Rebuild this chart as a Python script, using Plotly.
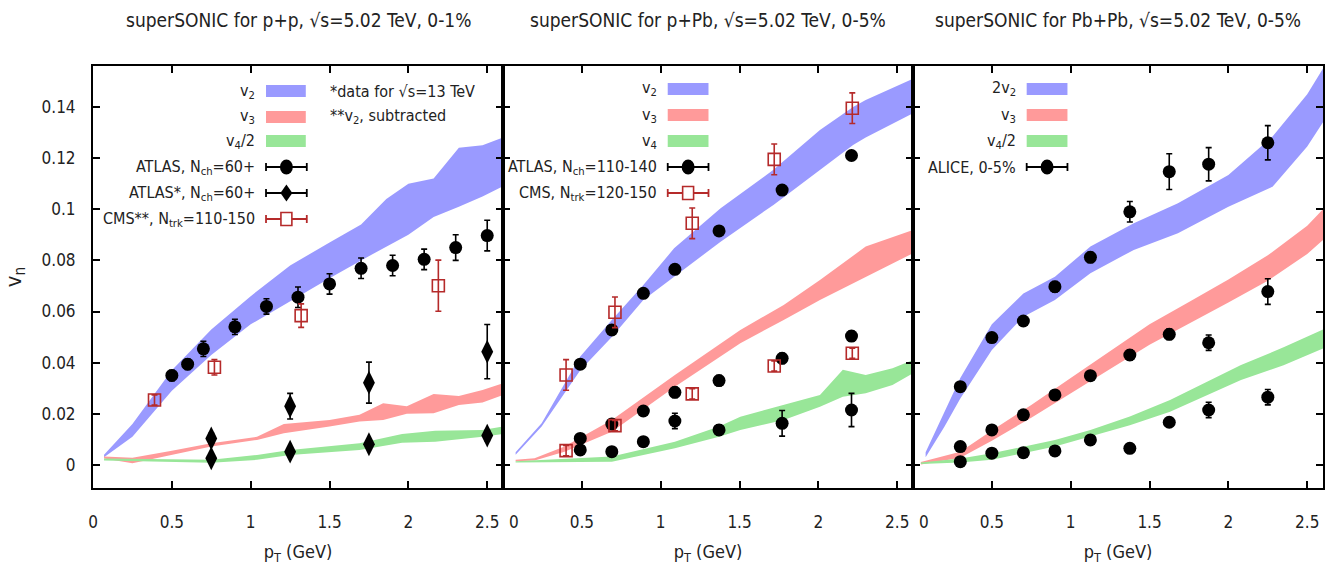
import plotly.graph_objects as go

# ---------------- data ----------------
# Panel 1: p+p
pp_v2_x = [0.07, 0.25, 0.5, 0.75, 1.0, 1.25, 1.5, 1.7, 1.86, 2.0, 2.16, 2.32, 2.47, 2.6]
pp_v2_hi = [0.004, 0.016, 0.037, 0.053, 0.066, 0.078, 0.087, 0.094, 0.104, 0.110, 0.112, 0.124, 0.125, 0.128]
pp_v2_lo = [0.003, 0.011, 0.029, 0.043, 0.055, 0.064, 0.073, 0.080, 0.0854, 0.090, 0.097, 0.101, 0.105, 0.109]
pp_v3_x = [0.07, 0.25, 0.5, 0.75, 1.04, 1.21, 1.5, 1.69, 1.84, 1.99, 2.16, 2.32, 2.47, 2.6]
pp_v3_hi = [0.0033, 0.0028, 0.0056, 0.0085, 0.011, 0.016, 0.0176, 0.0196, 0.0241, 0.023, 0.0278, 0.027, 0.0293, 0.032]
pp_v3_lo = [0.0025, 0.0007, 0.004, 0.0072, 0.0098, 0.0124, 0.015, 0.017, 0.0176, 0.020, 0.0202, 0.0235, 0.0244, 0.0274]
pp_v4_x = [0.07, 0.75, 1.04, 1.25, 1.69, 1.96, 2.17, 2.47, 2.6]
pp_v4_hi = [0.0025, 0.002, 0.0039, 0.0059, 0.0085, 0.0121, 0.0134, 0.0137, 0.015]
pp_v4_lo = [0.0018, 0.0009, 0.002, 0.0039, 0.0059, 0.0087, 0.0091, 0.011, 0.0121]

pp_atlas_x = [0.5, 0.6, 0.7, 0.9, 1.1, 1.3, 1.5, 1.7, 1.9, 2.1, 2.3, 2.5]
pp_atlas_v2 = [0.035, 0.0394, 0.0454, 0.054, 0.062, 0.0656, 0.0708, 0.0769, 0.078, 0.0804, 0.085, 0.0897]
pp_atlas_v2_err = [0.002, 0.002, 0.003, 0.003, 0.003, 0.004, 0.004, 0.004, 0.004, 0.004, 0.005, 0.006]
pp_atlas13_x = [0.75, 1.25, 1.75, 2.5]
pp_atlas13_v3 = [0.0104, 0.023, 0.0322, 0.0443]
pp_atlas13_v3_err = [0.002, 0.005, 0.008, 0.0106]
pp_atlas13_v4 = [0.0026, 0.0052, 0.0081, 0.0115]
pp_atlas13_v4_err = [0.001, 0.001, 0.001, 0.002]
pp_cms_x = [0.39, 0.77, 1.32, 2.19]
pp_cms_v2 = [0.0254, 0.0382, 0.0584, 0.0701]
pp_cms_v2_err = [0.002, 0.003, 0.0046, 0.010]

# Panel 2: p+Pb
ppb_v2_x = [0.08, 0.245, 0.49, 0.69, 0.89, 1.085, 1.38, 1.715, 2.01, 2.22, 2.30, 2.6]
ppb_v2_hi = [0.005, 0.0163, 0.0424, 0.0567, 0.0704, 0.0847, 0.1004, 0.1154, 0.131, 0.140, 0.1427, 0.151]
ppb_v2_lo = [0.004, 0.015, 0.037, 0.050, 0.0645, 0.0736, 0.0873, 0.1017, 0.1154, 0.1251, 0.128, 0.1375]
ppb_v3_x = [0.08, 0.2, 0.39, 0.69, 1.09, 1.505, 1.78, 2.01, 2.30, 2.6]
ppb_v3_hi = [0.002, 0.0026, 0.0072, 0.0176, 0.0352, 0.0528, 0.0626, 0.0723, 0.0854, 0.0919]
ppb_v3_lo = [0.0015, 0.0018, 0.0052, 0.013, 0.0306, 0.0476, 0.0567, 0.0645, 0.0736, 0.0828]
ppb_v4_x = [0.08, 0.69, 1.09, 1.37, 1.505, 1.78, 2.01, 2.155, 2.30, 2.47, 2.6]
ppb_v4_hi = [0.0015, 0.0033, 0.0091, 0.015, 0.0189, 0.0235, 0.0274, 0.0372, 0.0352, 0.0378, 0.041]
ppb_v4_lo = [0.001, 0.0013, 0.0065, 0.011, 0.0137, 0.0176, 0.0228, 0.0267, 0.028, 0.0313, 0.0359]

ppb_atlas_x = [0.49, 0.69, 0.89, 1.09, 1.37, 1.77, 2.21]
ppb_atlas_v2 = [0.0394, 0.0528, 0.0671, 0.0765, 0.0915, 0.1075, 0.121]
ppb_atlas_v2_err = [0.001, 0.001, 0.001, 0.001, 0.001, 0.001, 0.001]
ppb_atlas_v3 = [0.0104, 0.016, 0.0211, 0.0284, 0.033, 0.0417, 0.0504]
ppb_atlas_v3_err = [0.001, 0.001, 0.001, 0.002, 0.002, 0.002, 0.002]
ppb_atlas_v4 = [0.0059, 0.0052, 0.0091, 0.0172, 0.0137, 0.0163, 0.0215]
ppb_atlas_v4_err = [0.001, 0.001, 0.001, 0.003, 0.002, 0.005, 0.0065]
ppb_cms_x = [0.40, 0.71, 1.2, 1.72, 2.215]
ppb_cms_v2 = [0.0352, 0.0597, 0.0945, 0.1195, 0.1395]
ppb_cms_v2_err = [0.006, 0.006, 0.006, 0.006, 0.006]
ppb_cms_v3 = [0.0056, 0.0154, 0.0278, 0.0387, 0.0437]
ppb_cms_v3_err = [0.002, 0.002, 0.002, 0.002, 0.002]

# Panel 3: Pb+Pb
pbpb_v2_x = [0.08, 0.2, 0.3, 0.5, 0.7, 0.9, 1.125, 1.4, 1.68, 2.0, 2.28, 2.5, 2.6]
pbpb_v2_hi = [0.005, 0.021, 0.034, 0.055, 0.067, 0.0736, 0.0854, 0.0945, 0.1023, 0.1134, 0.1284, 0.145, 0.155]
pbpb_v2_lo = [0.003, 0.015, 0.026, 0.045, 0.058, 0.0645, 0.075, 0.0841, 0.0906, 0.101, 0.1088, 0.1245, 0.134]
pbpb_v3_x = [0.05, 0.3, 0.5, 0.75, 1.0, 1.25, 1.5, 1.75, 2.0, 2.25, 2.5, 2.6]
pbpb_v3_hi = [0.0012, 0.0052, 0.0135, 0.0235, 0.034, 0.0445, 0.055, 0.0637, 0.0725, 0.082, 0.0935, 0.100]
pbpb_v3_lo = [0.0002, 0.0028, 0.0095, 0.0185, 0.028, 0.0375, 0.047, 0.0553, 0.0635, 0.072, 0.0825, 0.088]
pbpb_v4_x = [0.05, 0.3, 0.5, 0.9, 1.125, 1.375, 1.63, 1.85, 2.08, 2.35, 2.6]
pbpb_v4_hi = [0.001, 0.0025, 0.0046, 0.0098, 0.0137, 0.019, 0.0254, 0.032, 0.0391, 0.046, 0.053]
pbpb_v4_lo = [0.0004, 0.001, 0.002, 0.0072, 0.0111, 0.0155, 0.0208, 0.027, 0.0332, 0.039, 0.0455]

pbpb_alice_x = [0.3, 0.5, 0.7, 0.9, 1.125, 1.375, 1.625, 1.875, 2.25]
pbpb_alice_v2 = [0.0306, 0.0498, 0.0563, 0.0697, 0.0812, 0.099, 0.1147, 0.1176, 0.126]
pbpb_alice_v2_err = [0.001, 0.001, 0.001, 0.002, 0.002, 0.004, 0.007, 0.0065, 0.0067]
pbpb_alice_v3 = [0.0072, 0.0137, 0.0196, 0.0274, 0.0349, 0.043, 0.0511, 0.0478, 0.0678]
pbpb_alice_v3_err = [0.001, 0.001, 0.001, 0.001, 0.001, 0.002, 0.002, 0.003, 0.005]
pbpb_alice_v4 = [0.0013, 0.0046, 0.0048, 0.0055, 0.0098, 0.0065, 0.0167, 0.0215, 0.0265]
pbpb_alice_v4_err = [0.001, 0.001, 0.001, 0.001, 0.001, 0.001, 0.001, 0.003, 0.003]

titles = ["superSONIC for p+p, \u221as=5.02 TeV, 0-1%",
          "superSONIC for p+Pb, \u221as=5.02 TeV, 0-5%",
          "superSONIC for Pb+Pb, \u221as=5.02 TeV, 0-5%"]
x_ticks = [0, 0.5, 1, 1.5, 2, 2.5]
x_tick_text = ["0", "0.5", "1", "1.5", "2", "2.5"]
y_ticks = [0, 0.02, 0.04, 0.06, 0.08, 0.1, 0.12, 0.14]
y_tick_text = ["0", "0.02", "0.04", "0.06", "0.08", "0.1", "0.12", "0.14"]

# ---------------- style ----------------
BLUE = "#9a9aff"
RED = "#ff9a9a"
GREEN = "#98e698"
CMSRED = "#b52a2a"
FONT = "DejaVu Sans Condensed, Liberation Sans Narrow, DejaVu Sans, sans-serif"
W, H = 1337, 574
ML, MR, MT, MB = 88, 12, 66, 86

fig = go.Figure()


def band(x, lo, hi, color, ax):
    fig.add_trace(go.Scatter(
        x=list(x) + list(x)[::-1], y=list(hi) + list(lo)[::-1],
        fill="toself", fillcolor=color, line=dict(width=0, color=color),
        mode="lines", hoverinfo="skip", showlegend=False,
        xaxis="x" + ax, yaxis="y" + ax))


def points(x, y, err, ax, symbol="circle", color="black", size=13, lw=0):
    fig.add_trace(go.Scatter(
        x=x, y=y, mode="markers",
        marker=dict(symbol=symbol, size=size, color=color,
                    line=dict(width=lw, color=color)),
        error_y=dict(type="data", array=err, color=color, thickness=1.6, width=3),
        showlegend=False, xaxis="x" + ax, yaxis="y" + ax))


# panel 1
band(pp_v2_x, pp_v2_lo, pp_v2_hi, BLUE, "")
band(pp_v3_x, pp_v3_lo, pp_v3_hi, RED, "")
band(pp_v4_x, pp_v4_lo, pp_v4_hi, GREEN, "")
points(pp_atlas_x, pp_atlas_v2, pp_atlas_v2_err, "")
points(pp_atlas13_x, pp_atlas13_v3, pp_atlas13_v3_err, "", symbol="diamond-tall", size=17)
points(pp_atlas13_x, pp_atlas13_v4, pp_atlas13_v4_err, "", symbol="diamond-tall", size=17)
points(pp_cms_x, pp_cms_v2, pp_cms_v2_err, "", symbol="square-open", color=CMSRED, size=12, lw=1.6)

# panel 2
band(ppb_v2_x, ppb_v2_lo, ppb_v2_hi, BLUE, "2")
band(ppb_v3_x, ppb_v3_lo, ppb_v3_hi, RED, "2")
band(ppb_v4_x, ppb_v4_lo, ppb_v4_hi, GREEN, "2")
points(ppb_atlas_x, ppb_atlas_v2, ppb_atlas_v2_err, "2")
points(ppb_atlas_x, ppb_atlas_v3, ppb_atlas_v3_err, "2")
points(ppb_atlas_x, ppb_atlas_v4, ppb_atlas_v4_err, "2")
points(ppb_cms_x, ppb_cms_v2, ppb_cms_v2_err, "2", symbol="square-open", color=CMSRED, size=12, lw=1.6)
points(ppb_cms_x, ppb_cms_v3, ppb_cms_v3_err, "2", symbol="square-open", color=CMSRED, size=12, lw=1.6)

# panel 3
band(pbpb_v2_x, pbpb_v2_lo, pbpb_v2_hi, BLUE, "3")
band(pbpb_v3_x, pbpb_v3_lo, pbpb_v3_hi, RED, "3")
band(pbpb_v4_x, pbpb_v4_lo, pbpb_v4_hi, GREEN, "3")
points(pbpb_alice_x, pbpb_alice_v2, pbpb_alice_v2_err, "3")
points(pbpb_alice_x, pbpb_alice_v3, pbpb_alice_v3_err, "3")
points(pbpb_alice_x, pbpb_alice_v4, pbpb_alice_v4_err, "3")

# ---------------- axes ----------------
domains = [[0, 1 / 3], [1 / 3, 2 / 3], [2 / 3, 1]]
layout = dict(
    width=W, height=H, margin=dict(l=ML, r=MR, t=MT, b=MB),
    plot_bgcolor="white", paper_bgcolor="white",
    font=dict(family=FONT, size=17, color="#222"),
    showlegend=False,
)
ann = []
for i, suf in enumerate(["", "2", "3"]):
    tt = list(x_tick_text)
    if i > 0:
        # the inner panels' "0" is drawn a bit right of the shared frame line (below)
        ann.append(dict(text=tt[0], x=x_ticks[0], y=0, xref="x" + suf, yref="paper",
                        xanchor="left", yanchor="top", xshift=4, yshift=-22,
                        showarrow=False, font=dict(size=17, color="#222")))
        tt[0] = ""
    layout["xaxis" + suf] = dict(
        domain=domains[i], range=[0, 2.6], tickvals=x_ticks, ticktext=tt,
        ticks="inside", ticklen=7, tickwidth=1.5, tickcolor="black",
        mirror="allticks", showline=True, linecolor="black", linewidth=2,
        showgrid=False, zeroline=False, anchor="y" + suf, ticklabelstandoff=18,
        tickfont=dict(size=17),
        title=dict(text="p<sub>T</sub> (GeV)", font=dict(size=18), standoff=14))
    layout["yaxis" + suf] = dict(
        range=[-0.009, 0.156], tickvals=y_ticks, ticktext=y_tick_text,
        ticks="inside", ticklen=7, tickwidth=1.5, tickcolor="black",
        mirror="allticks", showline=True, linecolor="black", linewidth=2,
        showgrid=False, zeroline=False, anchor="x" + suf,
        showticklabels=(i == 0), ticklabelstandoff=12, tickfont=dict(size=17),
        title=dict(text="v<sub>n</sub>" if i == 0 else "", font=dict(size=22), standoff=14))
fig.update_layout(**layout)


# ---------------- titles & legends (pixel placement) ----------------
def px(xp):
    return (xp - ML) / (W - ML - MR)


def py(yp):
    return (H - MB - yp) / (H - MT - MB)


shapes = []
for i, t in enumerate(titles):
    cx = (domains[i][0] + domains[i][1]) / 2
    ann.append(dict(text=t, x=cx, y=py(20), xref="paper", yref="paper",
                    showarrow=False, xanchor="center", yanchor="middle",
                    font=dict(size=19, color="#222")))


def legend_text(text, x_right, y):
    ann.append(dict(text=text, x=px(x_right), y=py(y), xref="paper", yref="paper",
                    showarrow=False, xanchor="right", yanchor="middle",
                    font=dict(size=16, color="#222")))


def legend_box(x0, x1, y, color):
    shapes.append(dict(type="rect", xref="paper", yref="paper",
                       x0=px(x0), x1=px(x1), y0=py(y + 6), y1=py(y - 6),
                       fillcolor=color, line=dict(width=0)))


def legend_errbar(x0, x1, y, color, marker):
    lw = 1.8
    shapes.append(dict(type="line", xref="paper", yref="paper", x0=px(x0), x1=px(x1),
                       y0=py(y), y1=py(y), line=dict(color=color, width=lw)))
    for xe in (x0, x1):
        shapes.append(dict(type="line", xref="paper", yref="paper", x0=px(xe), x1=px(xe),
                           y0=py(y - 4), y1=py(y + 4), line=dict(color=color, width=lw)))
    xc = (x0 + x1) / 2
    if marker == "circle":
        shapes.append(dict(type="circle", xref="paper", yref="paper",
                           x0=px(xc - 6.5), x1=px(xc + 6.5), y0=py(y + 7.5), y1=py(y - 7.5),
                           fillcolor=color, line=dict(width=0)))
    elif marker == "diamond":
        path = "M {} {} L {} {} L {} {} L {} {} Z".format(
            px(xc), py(y - 8.5), px(xc + 6), py(y), px(xc), py(y + 8.5), px(xc - 6), py(y))
        shapes.append(dict(type="path", xref="paper", yref="paper", path=path,
                           fillcolor=color, line=dict(width=0)))
    elif marker == "square":
        shapes.append(dict(type="rect", xref="paper", yref="paper",
                           x0=px(xc - 5.5), x1=px(xc + 5.5), y0=py(y + 6.5), y1=py(y - 6.5),
                           fillcolor="white", line=dict(width=1.6, color=color)))


# panel 1 legend
rows1 = [91, 117, 141, 167, 193, 219]
legend_text("v<sub>2</sub>", 253, rows1[0]); legend_box(262, 302, rows1[0], BLUE)
legend_text("v<sub>3</sub>", 253, rows1[1]); legend_box(262, 302, rows1[1], RED)
legend_text("v<sub>4</sub>/2", 253, rows1[2]); legend_box(262, 302, rows1[2], GREEN)
legend_text("ATLAS, N<sub>ch</sub>=60+", 253, rows1[3]); legend_errbar(262, 303, rows1[3], "black", "circle")
legend_text("ATLAS*, N<sub>ch</sub>=60+", 253, rows1[4]); legend_errbar(262, 303, rows1[4], "black", "diamond")
legend_text("CMS**, N<sub>trk</sub>=110-150", 253, rows1[5]); legend_errbar(262, 303, rows1[5], CMSRED, "square")
for txt, yy in (("*data for \u221as=13 TeV", rows1[0]), ("**v<sub>2</sub>, subtracted", rows1[1])):
    ann.append(dict(text=txt, x=px(324), y=py(yy), xref="paper", yref="paper",
                    showarrow=False, xanchor="left", yanchor="middle",
                    font=dict(size=16, color="#222")))

# panel 2 legend
rows2 = [89, 115, 141, 167, 193]
legend_text("v<sub>2</sub>", 657, rows2[0]); legend_box(666, 707, rows2[0], BLUE)
legend_text("v<sub>3</sub>", 657, rows2[1]); legend_box(666, 707, rows2[1], RED)
legend_text("v<sub>4</sub>", 657, rows2[2]); legend_box(666, 707, rows2[2], GREEN)
legend_text("ATLAS, N<sub>ch</sub>=110-140", 657, rows2[3]); legend_errbar(666, 707, rows2[3], "black", "circle")
legend_text("CMS, N<sub>trk</sub>=120-150", 657, rows2[4]); legend_errbar(666, 707, rows2[4], CMSRED, "square")

# panel 3 legend
rows3 = [89, 115, 141, 167]
legend_text("2v<sub>2</sub>", 1018, rows3[0]); legend_box(1027, 1068, rows3[0], BLUE)
legend_text("v<sub>3</sub>", 1018, rows3[1]); legend_box(1027, 1068, rows3[1], RED)
legend_text("v<sub>4</sub>/2", 1018, rows3[2]); legend_box(1027, 1068, rows3[2], GREEN)
legend_text("ALICE, 0-5%", 1018, rows3[3]); legend_errbar(1027, 1068, rows3[3], "black", "circle")

fig.update_layout(annotations=ann, shapes=shapes)
fig.write_html("out.html")
